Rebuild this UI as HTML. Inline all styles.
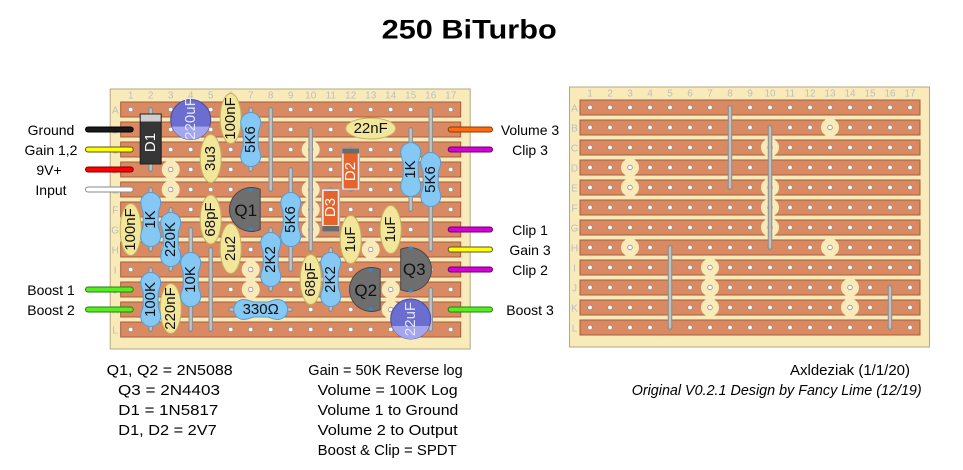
<!DOCTYPE html>
<html><head><meta charset="utf-8">
<style>html,body{margin:0;padding:0;background:#fff;}svg{display:block}</style>
</head><body>
<svg width="963" height="470" viewBox="0 0 963 470" xmlns="http://www.w3.org/2000/svg" xmlns:xlink="http://www.w3.org/1999/xlink" font-family="'Liberation Sans', sans-serif">
<defs>
  <pattern id="holes" x="-10" y="-10" width="20" height="20" patternUnits="userSpaceOnUse">
    <circle cx="10" cy="10" r="2.3" fill="#ffffff" stroke="#9a8a80" stroke-width="0.8"/>
  </pattern>
  <path id="r" d="M-10,-17 A10,10 0 0 1 10,-17 C10,-11 7.5,-10 7.5,-6 L7.5,6 C7.5,10 10,11 10,17 A10,10 0 0 1 -10,17 C-10,11 -7.5,10 -7.5,6 L-7.5,-6 C-7.5,-10 -10,-11 -10,-17 Z"/>
  <g id="base">
    <rect x="-20.5" y="-20.5" width="360" height="260" fill="#f9ebb9" stroke="#b5a782" stroke-width="1"/>
    <g fill="#d98a62" stroke="#a55c3c" stroke-width="1">
      <rect x="-10" y="-7.5" width="340" height="15"/>
      <rect x="-10" y="12.5" width="340" height="15"/>
      <rect x="-10" y="32.5" width="340" height="15"/>
      <rect x="-10" y="52.5" width="340" height="15"/>
      <rect x="-10" y="72.5" width="340" height="15"/>
      <rect x="-10" y="92.5" width="340" height="15"/>
      <rect x="-10" y="112.5" width="340" height="15"/>
      <rect x="-10" y="132.5" width="340" height="15"/>
      <rect x="-10" y="152.5" width="340" height="15"/>
      <rect x="-10" y="172.5" width="340" height="15"/>
      <rect x="-10" y="192.5" width="340" height="15"/>
      <rect x="-10" y="212.5" width="340" height="15"/>
    </g>
    <g fill="#f9ebb9">
      <circle cx="40" cy="60" r="9"/><circle cx="40" cy="80" r="9"/><circle cx="40" cy="140" r="9"/>
      <circle cx="120" cy="160" r="9"/><circle cx="120" cy="180" r="9"/><circle cx="120" cy="200" r="9"/>
      <circle cx="240" cy="20" r="9"/><circle cx="180" cy="40" r="9"/><circle cx="180" cy="80" r="9"/>
      <circle cx="180" cy="100" r="9"/><circle cx="180" cy="120" r="9"/><circle cx="240" cy="140" r="9"/>
      <circle cx="260" cy="180" r="9"/><circle cx="260" cy="200" r="9"/>
    </g>
    <rect x="-10" y="-10" width="340" height="240" fill="url(#holes)"/>
  </g>
  <g id="links" stroke-linecap="round">
    <g stroke="#8e8e8e" stroke-width="4.5">
      <line x1="140" y1="0" x2="140" y2="80"/><line x1="180" y1="20" x2="180" y2="140"/>
      <line x1="80" y1="140" x2="80" y2="220"/><line x1="300" y1="180" x2="300" y2="220"/>
    </g>
    <g stroke="#c2c2c2" stroke-width="2.4">
      <line x1="140" y1="0" x2="140" y2="80"/><line x1="180" y1="20" x2="180" y2="140"/>
      <line x1="80" y1="140" x2="80" y2="220"/><line x1="300" y1="180" x2="300" y2="220"/>
    </g>
  </g>
</defs>

<!-- Title -->
<text x="381.7" y="38.3" font-size="26.5" font-weight="bold" textLength="175" lengthAdjust="spacingAndGlyphs" fill="#000">250 BiTurbo</text>

<!-- LEFT BOARD -->
<g transform="translate(130.7,109.5)">
  <use xlink:href="#base"/>
  <g font-size="10" fill="#bdbdbd" text-anchor="middle">
    <text x="0" y="-11">1</text><text x="20" y="-11">2</text><text x="40" y="-11">3</text><text x="60" y="-11">4</text><text x="80" y="-11">5</text><text x="100" y="-11">6</text><text x="120" y="-11">7</text><text x="140" y="-11">8</text><text x="160" y="-11">9</text><text x="180" y="-11">10</text><text x="200" y="-11">11</text><text x="220" y="-11">12</text><text x="240" y="-11">13</text><text x="260" y="-11">14</text><text x="280" y="-11">15</text><text x="300" y="-11">16</text><text x="320" y="-11">17</text>
    <text x="-15.5" y="4">A</text><text x="-15.5" y="24">B</text><text x="-15.5" y="44">C</text><text x="-15.5" y="64">D</text><text x="-15.5" y="84">E</text><text x="-15.5" y="104">F</text><text x="-15.5" y="124">G</text><text x="-15.5" y="144">H</text><text x="-15.5" y="164">I</text><text x="-15.5" y="184">J</text><text x="-15.5" y="204">K</text><text x="-15.5" y="224">L</text>
  </g>
  <use xlink:href="#links"/>
  <!-- component leads -->
  <g stroke-linecap="round">
    <g stroke="#8e8e8e" stroke-width="4.5">
      <line x1="20" y1="0" x2="20" y2="60"/><line x1="120" y1="0" x2="120" y2="60"/>
      <line x1="280" y1="20" x2="280" y2="100"/><line x1="300" y1="0" x2="300" y2="140"/>
      <line x1="20" y1="80" x2="20" y2="140"/><line x1="40" y1="100" x2="40" y2="160"/>
      <line x1="60" y1="120" x2="60" y2="220"/><line x1="140" y1="120" x2="140" y2="180"/>
      <line x1="160" y1="60" x2="160" y2="160"/><line x1="20" y1="160" x2="20" y2="220"/>
      <line x1="100" y1="200" x2="160" y2="200"/><line x1="200" y1="140" x2="200" y2="200"/>
      <line x1="220" y1="40" x2="220" y2="80"/><line x1="200" y1="80" x2="200" y2="120"/>
    </g>
    <g stroke="#c2c2c2" stroke-width="2.4">
      <line x1="20" y1="0" x2="20" y2="60"/><line x1="120" y1="0" x2="120" y2="60"/>
      <line x1="280" y1="20" x2="280" y2="100"/><line x1="300" y1="0" x2="300" y2="140"/>
      <line x1="20" y1="80" x2="20" y2="140"/><line x1="40" y1="100" x2="40" y2="160"/>
      <line x1="60" y1="120" x2="60" y2="220"/><line x1="140" y1="120" x2="140" y2="180"/>
      <line x1="160" y1="60" x2="160" y2="160"/><line x1="20" y1="160" x2="20" y2="220"/>
      <line x1="100" y1="200" x2="160" y2="200"/><line x1="200" y1="140" x2="200" y2="200"/>
      <line x1="220" y1="40" x2="220" y2="80"/><line x1="200" y1="80" x2="200" y2="120"/>
    </g>
  </g>
  <!-- film caps -->
  <g fill="#f2e69a" stroke="#c3b35f" stroke-width="1">
    <ellipse cx="100" cy="9" rx="10.5" ry="25"/>
    <ellipse cx="80" cy="49" rx="10.5" ry="24"/>
    <ellipse cx="240" cy="19" rx="25" ry="10.5"/>
    <ellipse cx="0" cy="120" rx="10.5" ry="26"/>
    <ellipse cx="80" cy="110" rx="10.5" ry="24.5"/>
    <ellipse cx="100" cy="139" rx="10.5" ry="25"/>
    <ellipse cx="40" cy="199" rx="10.5" ry="25"/>
    <ellipse cx="180" cy="170" rx="10.5" ry="25"/>
    <ellipse cx="220" cy="130" rx="10.5" ry="24"/>
    <ellipse cx="260" cy="120" rx="10.5" ry="24"/>
  </g>
  <!-- resistors -->
  <g fill="#86c8f4" stroke="#5a9bcc" stroke-width="1">
    <use xlink:href="#r" x="120" y="30"/>
    <use xlink:href="#r" x="280" y="60"/>
    <use xlink:href="#r" x="300" y="70"/>
    <use xlink:href="#r" x="20" y="110"/>
    <use xlink:href="#r" x="40" y="130"/>
    <use xlink:href="#r" x="60" y="170"/>
    <use xlink:href="#r" x="140" y="150"/>
    <use xlink:href="#r" x="160" y="110"/>
    <use xlink:href="#r" x="20" y="190"/>
    <use xlink:href="#r" x="200" y="170"/>
    <use xlink:href="#r" transform="translate(130,200) rotate(90)"/>
  </g>
  <!-- diodes -->
  <rect x="9.5" y="4.5" width="21" height="50" fill="#363636" stroke="#1e1e1e"/>
  <rect x="10" y="5" width="20" height="7" fill="#cfcfcf"/>
  <rect x="211" y="38.5" width="18" height="42" fill="#e8e8e8" stroke="#9a9a9a" stroke-width="0.8"/>
  <rect x="213" y="44" width="14" height="35" fill="#e4642c"/>
  <rect x="211.5" y="39" width="17" height="5" fill="#6a6a6a"/>
  <rect x="191" y="79.5" width="18" height="43" fill="#e8e8e8" stroke="#9a9a9a" stroke-width="0.8"/>
  <rect x="193" y="81.5" width="14" height="34" fill="#e4642c"/>
  <rect x="191.5" y="116.5" width="17" height="5.5" fill="#6a6a6a"/>
  <!-- electrolytics -->
  <circle cx="60" cy="10" r="20" fill="#6b6dcf" stroke="#4a4ca3"/>
  <path d="M41.2,17 A20 20 0 0 0 78.8,17 Z" fill="#a3a5ee"/>
  <circle cx="280" cy="209.5" r="20" fill="#6b6dcf" stroke="#4a4ca3"/>
  <path d="M261.2,216.5 A20 20 0 0 0 298.8,216.5 Z" fill="#a3a5ee"/>
  <!-- transistors -->
  <g fill="#6e6e6e" stroke="#474747" stroke-width="1">
    <path d="M129.5,79.8 A22 22 0 1 0 129.5,120.2 Z"/>
    <path d="M249.5,159.8 A22 22 0 1 0 249.5,200.2 Z"/>
    <path d="M270,139.8 A22 22 0 1 1 270,180.2 Z"/>
  </g>
  <g fill="#2f8ad6">
    <ellipse cx="120" cy="80.5" rx="2.5" ry="1.5"/><ellipse cx="120" cy="119.5" rx="2.5" ry="1.5"/>
    <ellipse cx="240" cy="160.5" rx="2.5" ry="1.5"/><ellipse cx="240" cy="199.5" rx="2.5" ry="1.5"/>
    <ellipse cx="280" cy="138.5" rx="2.5" ry="1.5"/><ellipse cx="280" cy="181.5" rx="2.5" ry="1.5"/>
  </g>
  <!-- labels -->
  <g font-size="15" text-anchor="middle" dominant-baseline="central" fill="#111">
    <text transform="translate(20,33) rotate(-90)" fill="#ffffff">D1</text>
    <text transform="translate(60,9) rotate(-90)" fill="#e6e6ff">220uF</text>
    <text transform="translate(100,9) rotate(-90)">100nF</text>
    <text transform="translate(120,30) rotate(-90)">5K6</text>
    <text transform="translate(80,49) rotate(-90)">3u3</text>
    <text transform="translate(220,62) rotate(-90)" fill="#ffffff">D2</text>
    <text transform="translate(200,98) rotate(-90)" fill="#ffffff">D3</text>
    <text transform="translate(280,60) rotate(-90)">1K</text>
    <text transform="translate(300,70) rotate(-90)">5K6</text>
    <text transform="translate(0,120) rotate(-90)">100nF</text>
    <text transform="translate(20,110) rotate(-90)">1K</text>
    <text transform="translate(40,130) rotate(-90)">220K</text>
    <text transform="translate(80,110) rotate(-90)">68pF</text>
    <text transform="translate(100,139) rotate(-90)">2u2</text>
    <text transform="translate(160,110) rotate(-90)">5K6</text>
    <text transform="translate(140,150) rotate(-90)">2K2</text>
    <text transform="translate(60,170) rotate(-90)">10K</text>
    <text transform="translate(20,190) rotate(-90)">100K</text>
    <text transform="translate(40,199) rotate(-90)">220nF</text>
    <text transform="translate(180,170) rotate(-90)">68pF</text>
    <text transform="translate(200,170) rotate(-90)">2K2</text>
    <text transform="translate(220,130) rotate(-90)">1uF</text>
    <text transform="translate(260,120) rotate(-90)">1uF</text>
    <text transform="translate(280,209.5) rotate(-90)" fill="#e6e6ff">22uF</text>
    <text x="240" y="19">22nF</text>
    <text x="130" y="200">330Ω</text>
    <text x="115" y="101" font-size="17">Q1</text>
    <text x="235" y="181" font-size="17">Q2</text>
    <text x="283.5" y="160" font-size="17">Q3</text>
  </g>
</g>

<!-- RIGHT BOARD -->
<g transform="translate(590,107.5)">
  <use xlink:href="#base"/>
  <g font-size="10" fill="#bdbdbd" text-anchor="middle">
    <text x="0" y="-11">1</text><text x="20" y="-11">2</text><text x="40" y="-11">3</text><text x="60" y="-11">4</text><text x="80" y="-11">5</text><text x="100" y="-11">6</text><text x="120" y="-11">7</text><text x="140" y="-11">8</text><text x="160" y="-11">9</text><text x="180" y="-11">10</text><text x="200" y="-11">11</text><text x="220" y="-11">12</text><text x="240" y="-11">13</text><text x="260" y="-11">14</text><text x="280" y="-11">15</text><text x="300" y="-11">16</text><text x="320" y="-11">17</text>
    <text x="-15.5" y="4">A</text><text x="-15.5" y="24">B</text><text x="-15.5" y="44">C</text><text x="-15.5" y="64">D</text><text x="-15.5" y="84">E</text><text x="-15.5" y="104">F</text><text x="-15.5" y="124">G</text><text x="-15.5" y="144">H</text><text x="-15.5" y="164">I</text><text x="-15.5" y="184">J</text><text x="-15.5" y="204">K</text><text x="-15.5" y="224">L</text>
  </g>
  <use xlink:href="#links"/>
</g>

<!-- Off-board wires -->
<g stroke-linecap="round">
  <line x1="88" y1="129.5" x2="130.7" y2="129.5" stroke="#000" stroke-width="6"/>
  <line x1="88" y1="129.5" x2="130.7" y2="129.5" stroke="#1a1a1a" stroke-width="4"/>
  <line x1="88" y1="149.5" x2="130.7" y2="149.5" stroke="#55551a" stroke-width="6"/>
  <line x1="88" y1="149.5" x2="130.7" y2="149.5" stroke="#ffff00" stroke-width="4"/>
  <line x1="88" y1="169.5" x2="130.7" y2="169.5" stroke="#7a0000" stroke-width="6"/>
  <line x1="88" y1="169.5" x2="130.7" y2="169.5" stroke="#ff0000" stroke-width="4"/>
  <line x1="88" y1="189.5" x2="130.7" y2="189.5" stroke="#8a8a8a" stroke-width="6"/>
  <line x1="88" y1="189.5" x2="130.7" y2="189.5" stroke="#ffffff" stroke-width="4"/>
  <line x1="88" y1="289.5" x2="130.7" y2="289.5" stroke="#2a7a10" stroke-width="6"/>
  <line x1="88" y1="289.5" x2="130.7" y2="289.5" stroke="#55ee22" stroke-width="4"/>
  <line x1="88" y1="309.5" x2="130.7" y2="309.5" stroke="#2a7a10" stroke-width="6"/>
  <line x1="88" y1="309.5" x2="130.7" y2="309.5" stroke="#55ee22" stroke-width="4"/>

  <line x1="450.7" y1="129.5" x2="490" y2="129.5" stroke="#8a3a00" stroke-width="6"/>
  <line x1="450.7" y1="129.5" x2="490" y2="129.5" stroke="#ff6a10" stroke-width="4"/>
  <line x1="450.7" y1="149.5" x2="490" y2="149.5" stroke="#6a006a" stroke-width="6"/>
  <line x1="450.7" y1="149.5" x2="490" y2="149.5" stroke="#d400d4" stroke-width="4"/>
  <line x1="450.7" y1="229.5" x2="490" y2="229.5" stroke="#6a006a" stroke-width="6"/>
  <line x1="450.7" y1="229.5" x2="490" y2="229.5" stroke="#d400d4" stroke-width="4"/>
  <line x1="450.7" y1="249.5" x2="490" y2="249.5" stroke="#55551a" stroke-width="6"/>
  <line x1="450.7" y1="249.5" x2="490" y2="249.5" stroke="#ffff00" stroke-width="4"/>
  <line x1="450.7" y1="269.5" x2="490" y2="269.5" stroke="#6a006a" stroke-width="6"/>
  <line x1="450.7" y1="269.5" x2="490" y2="269.5" stroke="#d400d4" stroke-width="4"/>
  <line x1="450.7" y1="309.5" x2="490" y2="309.5" stroke="#2a7a10" stroke-width="6"/>
  <line x1="450.7" y1="309.5" x2="490" y2="309.5" stroke="#55ee22" stroke-width="4"/>
</g>

<!-- Wire labels -->
<g font-size="14" fill="#000" text-anchor="middle">
  <text x="51" y="135">Ground</text>
  <text x="51" y="155">Gain 1,2</text>
  <text x="49" y="175">9V+</text>
  <text x="51" y="195">Input</text>
  <text x="51" y="295">Boost 1</text>
  <text x="51" y="315">Boost 2</text>
  <text x="530" y="135">Volume 3</text>
  <text x="530" y="155">Clip 3</text>
  <text x="530" y="235">Clip 1</text>
  <text x="530" y="255">Gain 3</text>
  <text x="530" y="275">Clip 2</text>
  <text x="530" y="315">Boost 3</text>
</g>

<!-- Notes -->
<g font-size="14.5" fill="#000">
  <text x="106.7" y="375" textLength="126" lengthAdjust="spacingAndGlyphs">Q1, Q2 = 2N5088</text>
  <text x="118" y="395" textLength="102" lengthAdjust="spacingAndGlyphs">Q3  = 2N4403</text>
  <text x="118.3" y="415" textLength="100" lengthAdjust="spacingAndGlyphs">D1 = 1N5817</text>
  <text x="118.3" y="435" textLength="98.4" lengthAdjust="spacingAndGlyphs">D1, D2 = 2V7</text>
  <text x="308.3" y="375" textLength="154.4" lengthAdjust="spacingAndGlyphs">Gain = 50K Reverse log</text>
  <text x="317.7" y="395" textLength="140" lengthAdjust="spacingAndGlyphs">Volume = 100K Log</text>
  <text x="317.7" y="415" textLength="140.6" lengthAdjust="spacingAndGlyphs">Volume 1 to Ground</text>
  <text x="317.7" y="435" textLength="140" lengthAdjust="spacingAndGlyphs">Volume 2 to Output</text>
  <text x="317.7" y="455" textLength="139" lengthAdjust="spacingAndGlyphs">Boost &amp; Clip = SPDT</text>
  <text x="790" y="375" textLength="120" lengthAdjust="spacingAndGlyphs">Axldeziak (1/1/20)</text>
  <text x="631.7" y="395" font-style="italic" textLength="290" lengthAdjust="spacingAndGlyphs">Original V0.2.1 Design by Fancy Lime (12/19)</text>
</g>
</svg>
</body></html>
